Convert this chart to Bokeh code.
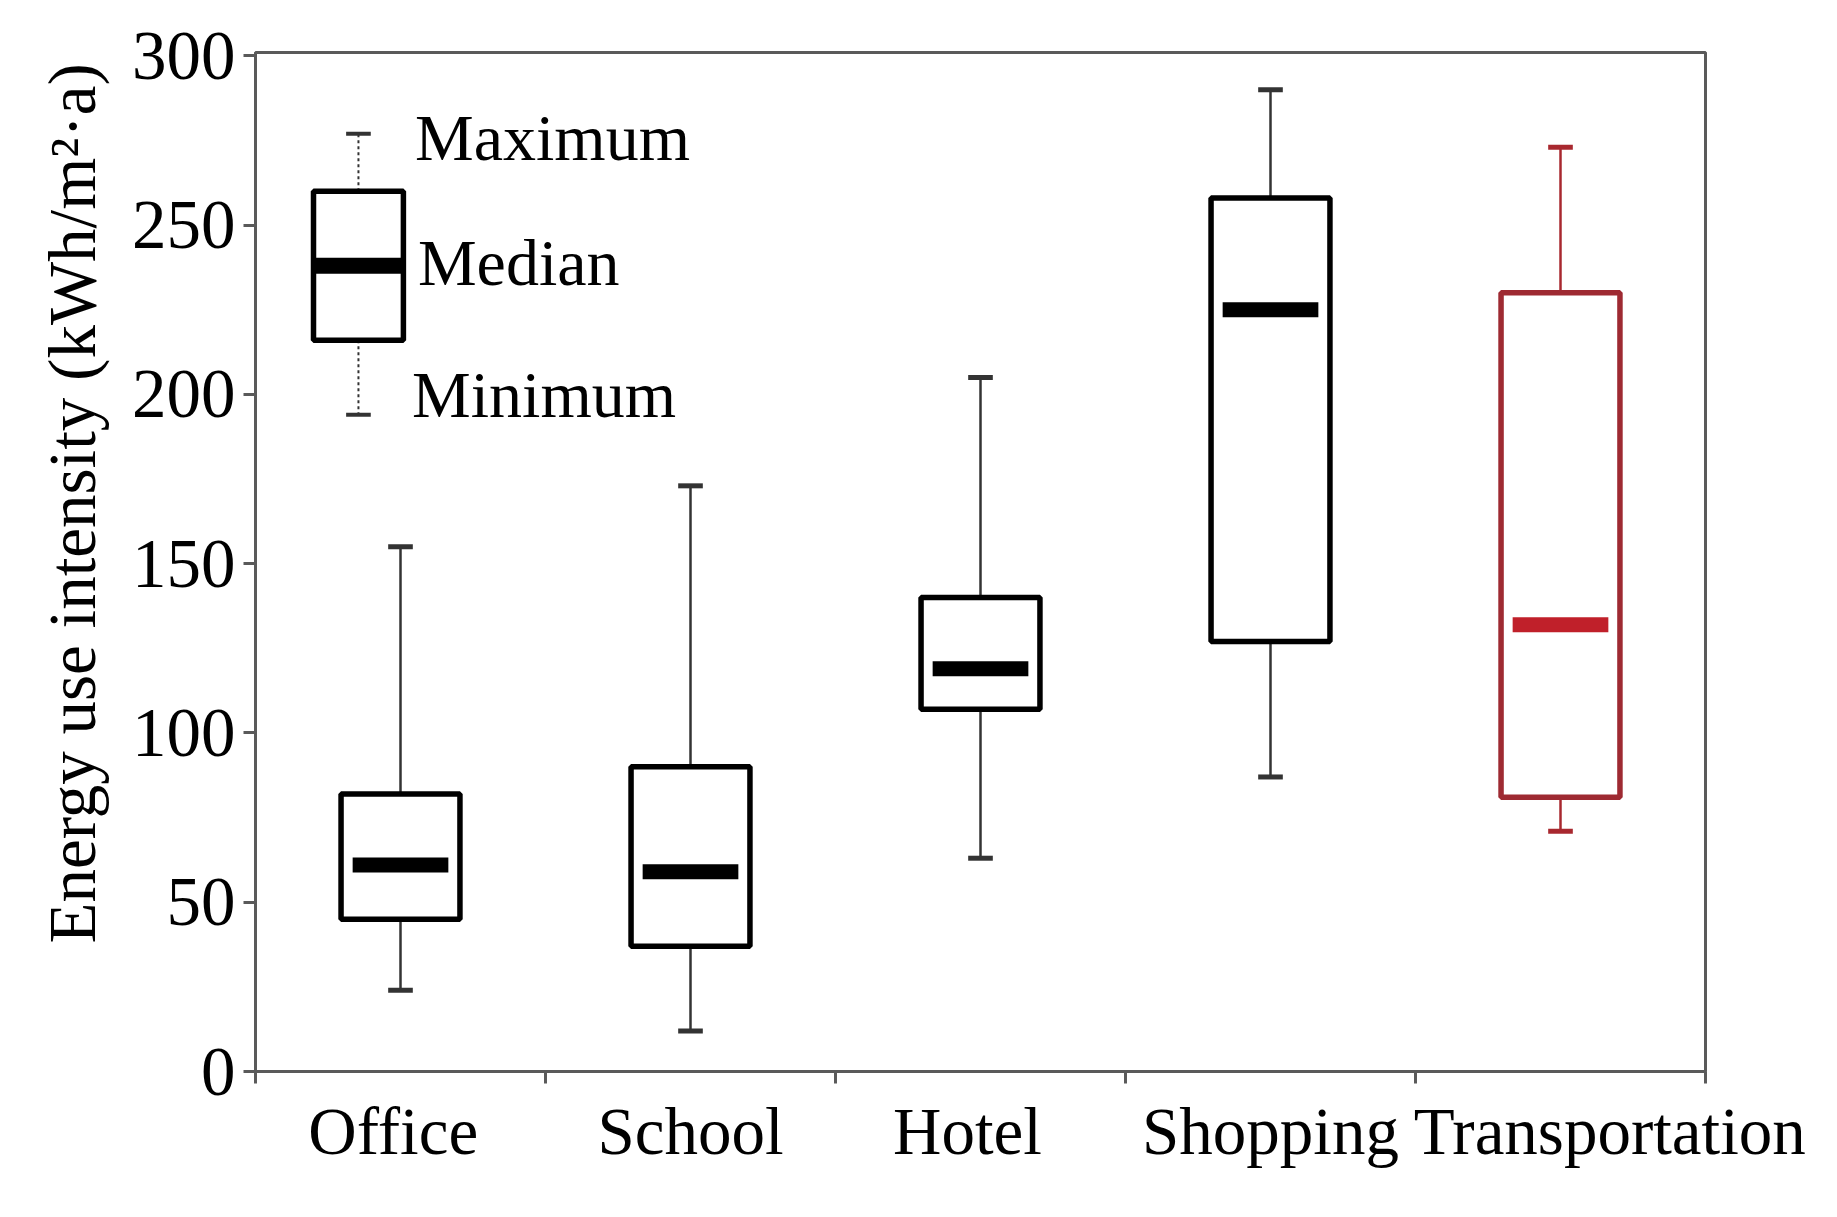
from bokeh.plotting import figure
from bokeh.models import Range1d, FixedTicker
from bokeh.core.properties import value
from bokeh.embed import file_html
from bokeh.resources import INLINE

# ---- data ----
categories = ["Office", "School", "Hotel", "Shopping", "Transportation"]
minimum = [24, 12, 63, 87, 71]
q1 = [45, 37, 107, 127, 81]
median = [61, 59, 119, 225, 132]
q3 = [82, 90, 140, 258, 230]
maximum = [155, 173, 205, 290, 273]
colors = ["black", "black", "black", "black", "#9e2a32"]
median_colors = ["black", "black", "black", "black", "#c0202a"]
whisker_colors = ["#333333", "#333333", "#333333", "#333333", "#a8282f"]

# legend box (schematic)
legend_min = [194]
legend_q1 = [216]
legend_median = [238]
legend_q3 = [260]
legend_max = [277]
legend_labels = ["Maximum", "Median", "Minimum"]
legend_label_y = [276, 239, 200]

FONT = "Liberation Serif"
n = len(categories)
centers = [i + 0.5 for i in range(n)]
label_shift = [-0.025, 0.0, -0.045, 0.0, 0.17]   # label placement offsets (layout only)
label_pos = [c + s for c, s in zip(centers, label_shift)]
box_w = 0.41
cap_w = 0.085
med_w = 0.33

p = figure(width=1821, height=1201, output_backend="svg", toolbar_location=None,
           x_range=Range1d(0, n), y_range=Range1d(0, 301),
           min_border_left=255, min_border_top=52, min_border_right=116,
           min_border_bottom=130)
p.grid.visible = False
p.outline_line_color = "#5a5a5a"
p.outline_line_width = 3
p.background_fill_color = "white"
p.border_fill_color = "white"

# whiskers
p.segment(x0=centers, y0=q3, x1=centers, y1=maximum, line_color=whisker_colors, line_width=2.5)
p.segment(x0=centers, y0=q1, x1=centers, y1=minimum, line_color=whisker_colors, line_width=2.5)
# caps
p.segment(x0=[c - cap_w / 2 for c in centers], y0=maximum,
          x1=[c + cap_w / 2 for c in centers], y1=maximum, line_color=whisker_colors, line_width=5)
p.segment(x0=[c - cap_w / 2 for c in centers], y0=minimum,
          x1=[c + cap_w / 2 for c in centers], y1=minimum, line_color=whisker_colors, line_width=5)
# boxes
p.quad(left=[c - box_w / 2 for c in centers], right=[c + box_w / 2 for c in centers],
       bottom=q1, top=q3, fill_color="white", line_color=colors, line_width=5.5)
# medians
p.segment(x0=[c - med_w / 2 for c in centers], y0=median,
          x1=[c + med_w / 2 for c in centers], y1=median, line_color=median_colors, line_width=15)

# schematic legend
lx = [0.355]
lw = 0.31
p.segment(x0=lx, y0=legend_q3, x1=lx, y1=legend_max, line_color="#333333", line_width=2, line_dash="3 3")
p.segment(x0=lx, y0=legend_q1, x1=lx, y1=legend_min, line_color="#333333", line_width=2, line_dash="3 3")
p.segment(x0=[lx[0] - cap_w / 2], y0=legend_max, x1=[lx[0] + cap_w / 2], y1=legend_max,
          line_color="#333333", line_width=4)
p.segment(x0=[lx[0] - cap_w / 2], y0=legend_min, x1=[lx[0] + cap_w / 2], y1=legend_min,
          line_color="#333333", line_width=4)
p.quad(left=[lx[0] - lw / 2], right=[lx[0] + lw / 2], bottom=legend_q1, top=legend_q3,
       fill_color="white", line_color="black", line_width=5.5)
p.segment(x0=[lx[0] - lw / 2], y0=legend_median, x1=[lx[0] + lw / 2], y1=legend_median,
          line_color="black", line_width=16)
p.text(x=[0.55, 0.56, 0.54], y=legend_label_y, text=legend_labels,
       text_font=value(FONT), text_font_size="66px", text_baseline="middle",
       text_align="left", text_color="black")

# axes
xa = p.xaxis[0]
xa.ticker = FixedTicker(ticks=label_pos, minor_ticks=list(range(n + 1)))
xa.major_label_overrides = {c: cat for c, cat in zip(label_pos, categories)}
xa.major_tick_line_color = None
xa.minor_tick_out = 12
xa.minor_tick_in = 0
xa.minor_tick_line_color = "#5a5a5a"
xa.minor_tick_line_width = 3
xa.axis_line_color = "#5a5a5a"
xa.axis_line_width = 3
xa.major_label_text_font = FONT
xa.major_label_text_font_size = "67px"
xa.major_label_text_color = "black"
xa.major_label_standoff = 10

ya = p.yaxis[0]
ya.ticker = FixedTicker(ticks=[0, 50, 100, 150, 200, 250, 300], minor_ticks=[])
ya.major_tick_out = 12
ya.major_tick_in = 0
ya.major_tick_line_color = "#5a5a5a"
ya.major_tick_line_width = 3
ya.minor_tick_line_color = None
ya.axis_line_color = "#5a5a5a"
ya.axis_line_width = 3
ya.major_label_text_font = FONT
ya.major_label_text_font_size = "69px"
ya.major_label_text_color = "black"
ya.major_label_standoff = 8
ya.axis_label = "\u00a0" * 7 + "Energy use intensity (kWh/m\u00b2\u00b7a)"
ya.axis_label_text_font = FONT
ya.axis_label_text_font_size = "67px"
ya.axis_label_text_font_style = "normal"
ya.axis_label_text_color = "black"
ya.axis_label_standoff = 20

open("out.html", "w").write(file_html(p, INLINE))
